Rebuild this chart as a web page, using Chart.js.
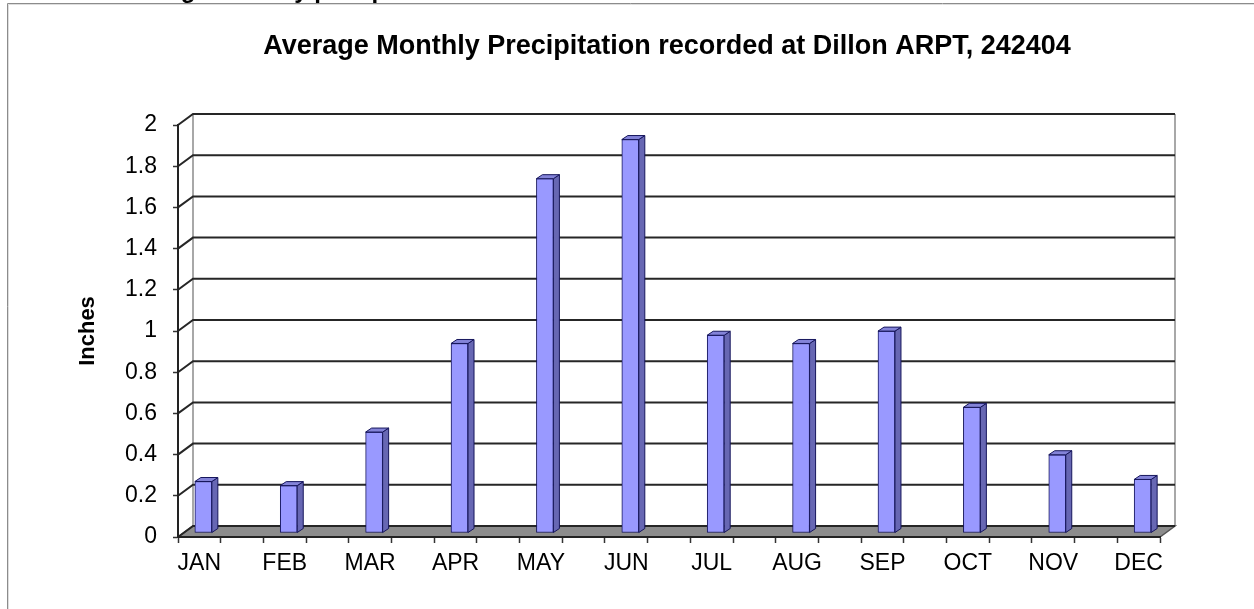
<!DOCTYPE html>
<html>
<head>
<meta charset="utf-8">
<title>Average Monthly Precipitation - Dillon ARPT</title>
<script src="https://cdn.jsdelivr.net/npm/chart.js@4/dist/chart.umd.min.js"></script>
<style>
  html, body { margin: 0; padding: 0; background: #fff; }
  canvas { display: block; }
</style>
</head>
<body>
<canvas id="chartContainer" width="1254" height="609"></canvas>
<script>
const months = ["JAN", "FEB", "MAR", "APR", "MAY", "JUN", "JUL", "AUG", "SEP", "OCT", "NOV", "DEC"];
const precipInches = [0.25, 0.23, 0.49, 0.92, 1.72, 1.91, 0.96, 0.92, 0.98, 0.61, 0.38, 0.26];
const yTickValues = [0, 0.2, 0.4, 0.6, 0.8, 1, 1.2, 1.4, 1.6, 1.8, 2];

const FONT = "'Liberation Sans', Arial, Helvetica, sans-serif";
const DEPTH = { x: 15, y: -11 };     // back wall offset from the front plane
const BAR_SHIFT = { x: 4, y: -4 };   // columns stand a little behind the front edge
const BAR_SIDE = { x: 6, y: -4 };    // depth of each column (side and top faces)

// x ticks every half category, offset by a quarter, like the old spreadsheet chart
const xTickValues = [];
for (let k = 0; k <= 46; k++) xTickValues.push(-0.25 + k * 0.25);

function poly(ctx, pts) {
    ctx.beginPath();
    ctx.moveTo(pts[0][0], pts[0][1]);
    for (let i = 1; i < pts.length; i++) ctx.lineTo(pts[i][0], pts[i][1]);
    ctx.closePath();
    ctx.fill();
    ctx.stroke();
}

function xTickColor(c) {
    if (!c.tick) return "rgba(0,0,0,0)";
    return Math.abs(Math.round(c.tick.value * 4)) % 2 === 1 ? "#333" : "rgba(0,0,0,0)";
}

const frame3d = {
    id: "frame3d",
    beforeDraw(chart) {
        const { ctx, chartArea: a, scales: { y } } = chart;
        ctx.save();
        ctx.fillStyle = "#fff";
        ctx.fillRect(0, 0, chart.width, chart.height);

        // caption above the chart box, mostly cut off
        ctx.fillStyle = "#000";
        ctx.font = "bold 24px " + FONT;
        ctx.textBaseline = "alphabetic";
        ctx.fillText("Average Monthly precipitation", 115, -2);

        // chart box edge
        ctx.lineWidth = 1;
        ctx.strokeStyle = "#8c8c8c";
        ctx.beginPath();
        ctx.moveTo(7.5, chart.height); ctx.lineTo(7.5, 3.5); ctx.lineTo(chart.width, 3.5);
        ctx.stroke();
        ctx.strokeStyle = "#dedede";
        ctx.beginPath();
        ctx.moveTo(8.5, chart.height); ctx.lineTo(8.5, 4.5); ctx.lineTo(chart.width, 4.5);
        ctx.stroke();

        const dx = DEPTH.x, dy = DEPTH.y;
        const top = y.getPixelForValue(y.max);
        const bottom = y.getPixelForValue(y.min);

        // back wall side edges
        ctx.strokeStyle = "#a8a8a8";
        ctx.lineWidth = 2;
        ctx.beginPath();
        ctx.moveTo(a.left + dx, top + dy); ctx.lineTo(a.left + dx, bottom + dy);
        ctx.moveTo(a.right + dx, top + dy); ctx.lineTo(a.right + dx, bottom + dy);
        ctx.stroke();

        // floor
        ctx.fillStyle = "#8c8c8c";
        ctx.strokeStyle = "#555";
        ctx.lineWidth = 1.5;
        poly(ctx, [[a.left, bottom], [a.right, bottom], [a.right + dx, bottom + dy], [a.left + dx, bottom + dy]]);

        // gridlines: side wall diagonal + back wall
        ctx.strokeStyle = "#262626";
        ctx.lineWidth = 2;
        y.ticks.forEach(t => {
            const py = y.getPixelForValue(t.value);
            ctx.beginPath();
            ctx.moveTo(a.left, py);
            ctx.lineTo(a.left + dx, py + dy);
            ctx.lineTo(a.right + dx, py + dy);
            ctx.stroke();
        });
        ctx.restore();
    },
    beforeDatasetsDraw(chart) {
        chart.ctx.save();
        chart.ctx.translate(BAR_SHIFT.x, BAR_SHIFT.y);
    },
    afterDatasetsDraw(chart) {
        const ctx = chart.ctx;
        const sx = BAR_SIDE.x, sy = BAR_SIDE.y;
        ctx.lineWidth = 1;
        ctx.strokeStyle = "#16165c";
        chart.getDatasetMeta(0).data.forEach(bar => {
            const { x, y, base, width } = bar.getProps(["x", "y", "base", "width"], true);
            const l = x - width / 2, r = x + width / 2;
            ctx.fillStyle = "#6767b3";
            poly(ctx, [[r, y], [r + sx, y + sy], [r + sx, base + sy], [r, base]]);
            ctx.fillStyle = "#8383d8";
            poly(ctx, [[l, y], [l + sx, y + sy], [r + sx, y + sy], [r, y]]);
        });
        ctx.restore();
    }
};

const chart = new Chart(document.getElementById("chartContainer"), {
    type: "bar",
    data: {
        datasets: [
            {
                label: "Inches",
                data: precipInches.map((v, i) => ({ x: i, y: v })),
                backgroundColor: "#9999ff",
                borderColor: "#16165c",
                borderWidth: 1,
                borderSkipped: false,
                barThickness: 17,
                clip: false,
            },
        ],
    },
    options: {
        responsive: false,
        animation: false,
        layout: { padding: { left: 80, right: 0, top: 0, bottom: 0 } },
        plugins: {
            legend: { display: false },
            tooltip: { enabled: false },
            title: {
                display: true,
                text: "Average Monthly Precipitation recorded at Dillon ARPT, 242404",
                color: "#000",
                font: { family: FONT, size: 27, weight: "bold", lineHeight: 1.2 },
                padding: { top: 30, bottom: 62.6 },
            },
        },
        scales: {
            x: {
                type: "linear",
                offset: false,
                min: -0.25,
                max: 11.25,
                afterBuildTicks: (s) => { s.ticks = xTickValues.map(v => ({ value: v })); },
                afterFit: (s) => { s.height = 72; },
                ticks: {
                    autoSkip: false,
                    maxRotation: 0,
                    minRotation: 0,
                    padding: 7,
                    color: "#000",
                    font: { family: FONT, size: 23 },
                    callback: (v) => (Number.isInteger(v) ? months[v] : ""),
                },
                grid: {
                    offset: false,
                    drawOnChartArea: false,
                    tickLength: 6,
                    tickWidth: 1.5,
                    tickColor: xTickColor,
                },
                border: { color: "#222", width: 2 },
            },
            y: {
                min: 0,
                max: 2,
                afterBuildTicks: (s) => { s.ticks = yTickValues.map(v => ({ value: v })); },
                afterFit: (s) => { s.width = 98; },
                ticks: {
                    padding: 16,
                    color: "#000",
                    font: { family: FONT, size: 23 },
                    callback: (v) => String(v),
                },
                grid: { drawOnChartArea: false, tickLength: 5, tickColor: "#333", tickWidth: 1.5 },
                border: { color: "#222", width: 2 },
                title: {
                    display: true,
                    text: "Inches",
                    color: "#000",
                    font: { family: FONT, size: 22, weight: "bold", lineHeight: 0.74 },
                    padding: 0,
                },
            },
            yRight: {
                position: "right",
                afterFit: (s) => { s.width = 94; },
                ticks: { display: false },
                grid: { display: false },
                border: { display: false },
            },
        },
    },
    plugins: [frame3d],
});
</script>
</body>
</html>
